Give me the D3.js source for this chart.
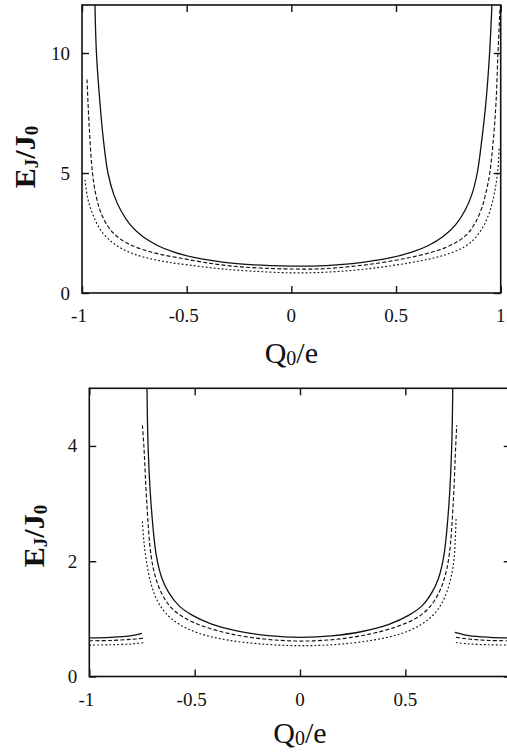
<!DOCTYPE html>
<html>
<head>
<meta charset="utf-8">
<script src="https://cdn.jsdelivr.net/npm/d3@7"></script>
<style>
  html, body { margin: 0; padding: 0; background: #fff; }
  svg { display: block; }
  text { font-family: "Liberation Serif", "Times New Roman", "DejaVu Serif", serif; fill: #111; }
</style>
</head>
<body>
<script>
// ---------- DATA ----------
// Upper panel: [Q0/e, EJ/J0]
const topSolid = [[-0.938,12],[-0.931,10],[-0.915,8],[-0.898,6.4],[-0.876,5],[-0.848,4.1],[-0.815,3.45],[-0.770,2.85],[-0.710,2.35],[-0.640,1.98],[-0.560,1.70],[-0.454,1.46],[-0.330,1.29],[-0.215,1.19],[-0.100,1.14],[0,1.12],[0.100,1.12],[0.231,1.18],[0.350,1.29],[0.470,1.46],[0.575,1.70],[0.655,1.98],[0.725,2.35],[0.785,2.85],[0.830,3.45],[0.862,4.1],[0.888,5],[0.910,6.4],[0.930,8],[0.947,10],[0.958,12]];
const topDashed = [[-0.976,8.9],[-0.966,7],[-0.950,5],[-0.934,4.1],[-0.914,3.45],[-0.885,2.9],[-0.845,2.45],[-0.790,2.1],[-0.720,1.84],[-0.630,1.62],[-0.534,1.46],[-0.420,1.28],[-0.295,1.13],[-0.150,1.04],[0,1.0],[0.150,1.01],[0.290,1.11],[0.420,1.25],[0.555,1.46],[0.650,1.65],[0.730,1.87],[0.795,2.15],[0.845,2.5],[0.880,2.95],[0.910,3.55],[0.930,4.2],[0.948,5],[0.966,6.5],[0.978,8],[0.987,10],[0.997,11.9]];
const topDotted = [[-0.986,4.72],[-0.974,4.0],[-0.958,3.5],[-0.935,3.0],[-0.905,2.55],[-0.865,2.18],[-0.820,1.90],[-0.760,1.65],[-0.693,1.47],[-0.600,1.30],[-0.486,1.16],[-0.340,1.01],[-0.185,0.91],[0,0.84],[0.151,0.86],[0.300,0.95],[0.430,1.08],[0.560,1.25],[0.680,1.46],[0.760,1.66],[0.822,1.90],[0.868,2.2],[0.905,2.6],[0.935,3.1],[0.958,3.7],[0.975,4.4],[0.986,5.1],[0.993,6.1]];

// Lower panel: three pieces per series
const botSolidL  = [[-1,0.67],[-0.9,0.68],[-0.8,0.71],[-0.75,0.75]];
const botDashedL = [[-1,0.62],[-0.9,0.625],[-0.8,0.645],[-0.743,0.665]];
const botDottedL = [[-1,0.545],[-0.9,0.55],[-0.8,0.565],[-0.743,0.585]];
const botSolidM  = [[-0.726,5],[-0.721,4],[-0.707,3.0],[-0.682,2.1],[-0.655,1.7],[-0.622,1.45],[-0.575,1.23],[-0.510,1.06],[-0.419,0.91],[-0.300,0.79],[-0.150,0.71],[0,0.68],[0.150,0.705],[0.300,0.785],[0.425,0.91],[0.515,1.06],[0.580,1.23],[0.625,1.45],[0.657,1.7],[0.683,2.1],[0.707,3.0],[0.720,4],[0.725,5]];
const botDashedM = [[-0.748,4.36],[-0.741,4],[-0.727,3.0],[-0.707,2.1],[-0.684,1.7],[-0.655,1.43],[-0.610,1.19],[-0.545,1.01],[-0.450,0.86],[-0.330,0.74],[-0.170,0.65],[0,0.615],[0.170,0.645],[0.330,0.735],[0.455,0.86],[0.550,1.01],[0.612,1.19],[0.656,1.43],[0.685,1.7],[0.708,2.1],[0.727,3.0],[0.739,4.0],[0.744,4.36]];
const botDottedM = [[-0.748,2.69],[-0.741,2.35],[-0.729,2.0],[-0.708,1.62],[-0.678,1.32],[-0.635,1.09],[-0.575,0.91],[-0.480,0.75],[-0.340,0.63],[-0.170,0.56],[0,0.535],[0.170,0.555],[0.345,0.63],[0.485,0.75],[0.578,0.91],[0.638,1.09],[0.680,1.32],[0.710,1.62],[0.730,2.0],[0.737,2.4],[0.741,2.75]];
const botSolidR  = [[0.735,0.765],[0.8,0.71],[0.9,0.68],[1,0.67]];
const botDashedR = [[0.74,0.68],[0.8,0.65],[0.9,0.625],[1,0.62]];
const botDottedR = [[0.74,0.59],[0.8,0.565],[0.9,0.55],[1,0.545]];

const xTickValues = [-1, -0.5, 0, 0.5, 1];
const xTickLabels = ["-1", "-0.5", "0", "0.5", "1"];
const topYTicks = [0, 5, 10];
const botYTicks = [0, 2, 4];

// ---------- DRAW ----------
const W = 507, H = 755;
const FONT = "'Liberation Serif', 'Times New Roman', serif";
const svg = d3.select("body").append("svg").attr("width", W).attr("height", H);

const styles = {
  solid:  { dash: null,  width: 1.3 },
  dashed: { dash: "4,2.2", width: 1.15 },
  dotted: { dash: "1.8,2.2", width: 1.15 }
};

function panel(cfg) {
  const x = d3.scaleLinear().domain([-1, 1]).range([cfg.left, cfg.right]);
  const y = d3.scaleLinear().domain([0, cfg.ymax]).range([cfg.bottom, cfg.top]);
  const g = svg.append("g");
  const clipId = "clip" + cfg.id;
  svg.append("clipPath").attr("id", clipId).append("rect")
    .attr("x", cfg.left).attr("y", cfg.top)
    .attr("width", cfg.right - cfg.left).attr("height", cfg.bottom - cfg.top);

  const line = d3.line().x(d => x(d[0])).y(d => y(d[1])).curve(d3.curveCatmullRom.alpha(0.5));
  const cg = g.append("g").attr("clip-path", `url(#${clipId})`);
  cfg.series.forEach(s => {
    const st = styles[s.style];
    cg.append("path").datum(s.data).attr("d", line)
      .attr("fill", "none").attr("stroke", "#111")
      .attr("stroke-width", st.width)
      .attr("stroke-dasharray", st.dash);
  });

  const tickLen = 7;
  const axB = d3.axisBottom(x).tickValues(xTickValues).tickSize(-tickLen).tickFormat("").tickSizeOuter(0);
  const axT = d3.axisTop(x).tickValues(xTickValues).tickSize(-tickLen).tickFormat("").tickSizeOuter(0);
  const axL = d3.axisLeft(y).tickValues(cfg.yticks).tickSize(-tickLen).tickFormat("").tickSizeOuter(0);
  const axR = d3.axisRight(y).tickValues(cfg.yticks).tickSize(-tickLen).tickFormat("").tickSizeOuter(0);
  const axes = [
    g.append("g").attr("transform", `translate(0,${cfg.bottom})`).call(axB),
    g.append("g").attr("transform", `translate(0,${cfg.top})`).call(axT),
    g.append("g").attr("transform", `translate(${cfg.left},0)`).call(axL),
    g.append("g").attr("transform", `translate(${cfg.right},0)`).call(axR)
  ];
  axes.forEach(a => {
    a.select(".domain").remove();
    a.selectAll(".tick line").attr("stroke", "#111").attr("stroke-width", 1.4);
  });

  g.append("rect").attr("x", cfg.left).attr("y", cfg.top)
    .attr("width", cfg.right - cfg.left).attr("height", cfg.bottom - cfg.top)
    .attr("fill", "none").attr("stroke", "#111").attr("stroke-width", 1.6);

  g.selectAll(".xl").data(xTickValues).enter().append("text")
    .attr("x", d => x(d) - (d < 0 ? 3 : 0)).attr("y", cfg.bottom + cfg.xlabOff)
    .attr("text-anchor", "middle").attr("font-size", 19).attr("font-family", FONT)
    .text((d, i) => xTickLabels[i]);
  g.selectAll(".yl").data(cfg.yticks).enter().append("text")
    .attr("x", cfg.left - 12).attr("y", d => y(d) + 6.5)
    .attr("text-anchor", "end").attr("font-size", 19).attr("font-family", FONT)
    .text(d => d);

  const yt = g.append("text")
    .attr("transform", `translate(${cfg.ytx},${cfg.yty}) rotate(-90)`)
    .attr("text-anchor", "middle").attr("font-size", 30).attr("font-weight", "bold")
    .attr("font-family", FONT);
  yt.append("tspan").text("E");
  yt.append("tspan").attr("font-size", 19).attr("dy", 3).text("J");
  yt.append("tspan").attr("dy", -3).text("/J");
  yt.append("tspan").attr("font-size", 19).attr("dy", 3).text("0");

  const xt = g.append("text")
    .attr("x", x(0)).attr("y", cfg.xty)
    .attr("text-anchor", "middle").attr("font-size", 30).attr("font-family", FONT);
  xt.append("tspan").text("Q");
  xt.append("tspan").attr("font-size", 20).attr("dy", 2).text("0");
  xt.append("tspan").attr("dy", -2).text("/e");
}

panel({
  id: "top", left: 82, right: 500.7, top: 5, bottom: 293, ymax: 12,
  yticks: topYTicks, xlabOff: 29, ytx: 35, yty: 157, xty: 363,
  series: [
    { data: topSolid, style: "solid" },
    { data: topDashed, style: "dashed" },
    { data: topDotted, style: "dotted" }
  ]
});

panel({
  id: "bot", left: 89.3, right: 510.7, top: 388.3, bottom: 676.5, ymax: 5,
  yticks: botYTicks, xlabOff: 29, ytx: 44, yty: 536, xty: 743,
  series: [
    { data: botSolidL, style: "solid" },
    { data: botDashedL, style: "dashed" },
    { data: botDottedL, style: "dotted" },
    { data: botSolidM, style: "solid" },
    { data: botDashedM, style: "dashed" },
    { data: botDottedM, style: "dotted" },
    { data: botSolidR, style: "solid" },
    { data: botDashedR, style: "dashed" },
    { data: botDottedR, style: "dotted" }
  ]
});
</script>
</body>
</html>
